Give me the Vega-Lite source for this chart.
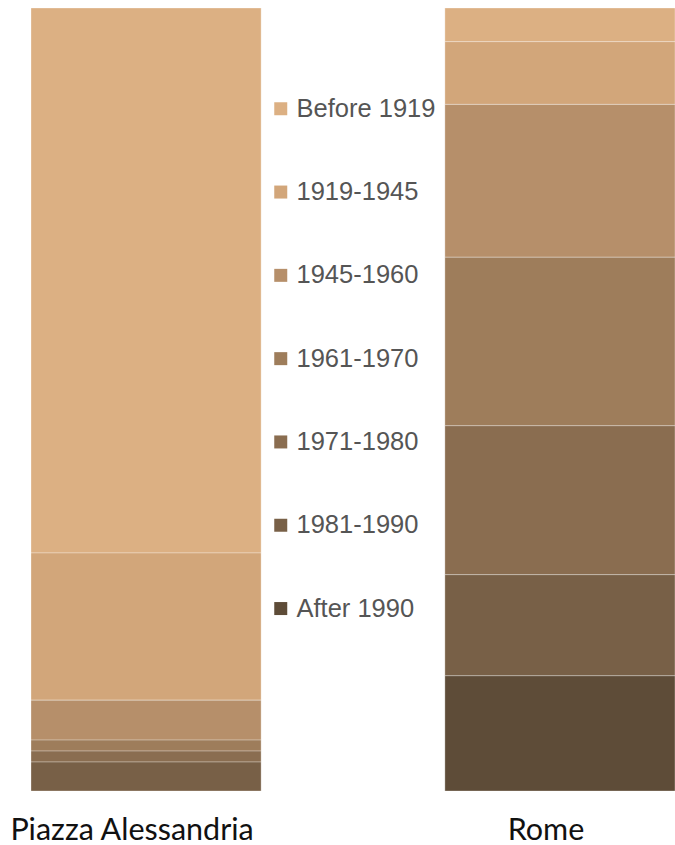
{
  "$schema": "https://vega.github.io/schema/vega-lite/v6.json",
  "autosize": "none",
  "width": 644,
  "height": 783,
  "padding": {"left": 31, "top": 8, "right": 0, "bottom": 54},
  "background": "white",
  "data": {
    "values": [
      {"area": "Piazza Alessandria", "period": "Before 1919", "rank": 1, "pct": 69.6},
      {"area": "Piazza Alessandria", "period": "1919-1945", "rank": 2, "pct": 18.8},
      {"area": "Piazza Alessandria", "period": "1945-1960", "rank": 3, "pct": 5.1},
      {"area": "Piazza Alessandria", "period": "1961-1970", "rank": 4, "pct": 1.4},
      {"area": "Piazza Alessandria", "period": "1971-1980", "rank": 5, "pct": 1.4},
      {"area": "Piazza Alessandria", "period": "1981-1990", "rank": 6, "pct": 3.7},
      {"area": "Rome", "period": "Before 1919", "rank": 1, "pct": 4.3},
      {"area": "Rome", "period": "1919-1945", "rank": 2, "pct": 8.0},
      {"area": "Rome", "period": "1945-1960", "rank": 3, "pct": 19.5},
      {"area": "Rome", "period": "1961-1970", "rank": 4, "pct": 21.5},
      {"area": "Rome", "period": "1971-1980", "rank": 5, "pct": 19.0},
      {"area": "Rome", "period": "1981-1990", "rank": 6, "pct": 12.9},
      {"area": "Rome", "period": "After 1990", "rank": 7, "pct": 14.7}
    ]
  },
  "mark": {"type": "bar", "stroke": "white", "strokeOpacity": 0.3, "strokeWidth": 1},
  "encoding": {
    "x": {
      "field": "area", "type": "nominal",
      "scale": {"domain": ["Piazza Alessandria", "Rome"], "paddingInner": 0.444, "paddingOuter": 0},
      "axis": {"title": null, "domain": false, "ticks": false, "labelAngle": 0, "labelFont": "Lato", "labelFontSize": 30.5, "labelColor": "#111111", "labelBaseline": "alphabetic", "labelPadding": 48, "labelLimit": 0, "labelOffset": -14}
    },
    "y": {
      "field": "pct", "type": "quantitative", "stack": "normalize",
      "scale": {"reverse": true}, "axis": null
    },
    "order": {"field": "rank", "type": "quantitative", "sort": "ascending"},
    "color": {
      "field": "period", "type": "nominal",
      "scale": {
        "domain": ["Before 1919", "1919-1945", "1945-1960", "1961-1970", "1971-1980", "1981-1990", "After 1990"],
        "range": ["#dcb083", "#d2a67a", "#b68f6a", "#9e7d5b", "#8a6d50", "#786047", "#5e4c38"]
      },
      "legend": {
        "title": null, "orient": "none", "legendX": 237, "legendY": 88,
        "padding": 0, "symbolType": "square", "symbolSize": 169, "symbolStrokeWidth": 0,
        "labelFont": "Liberation Sans", "labelFontSize": 25.5, "labelColor": "#555555",
        "labelOffset": 3, "rowPadding": 56.3
      }
    }
  },
  "config": {"view": {"stroke": null}}
}
